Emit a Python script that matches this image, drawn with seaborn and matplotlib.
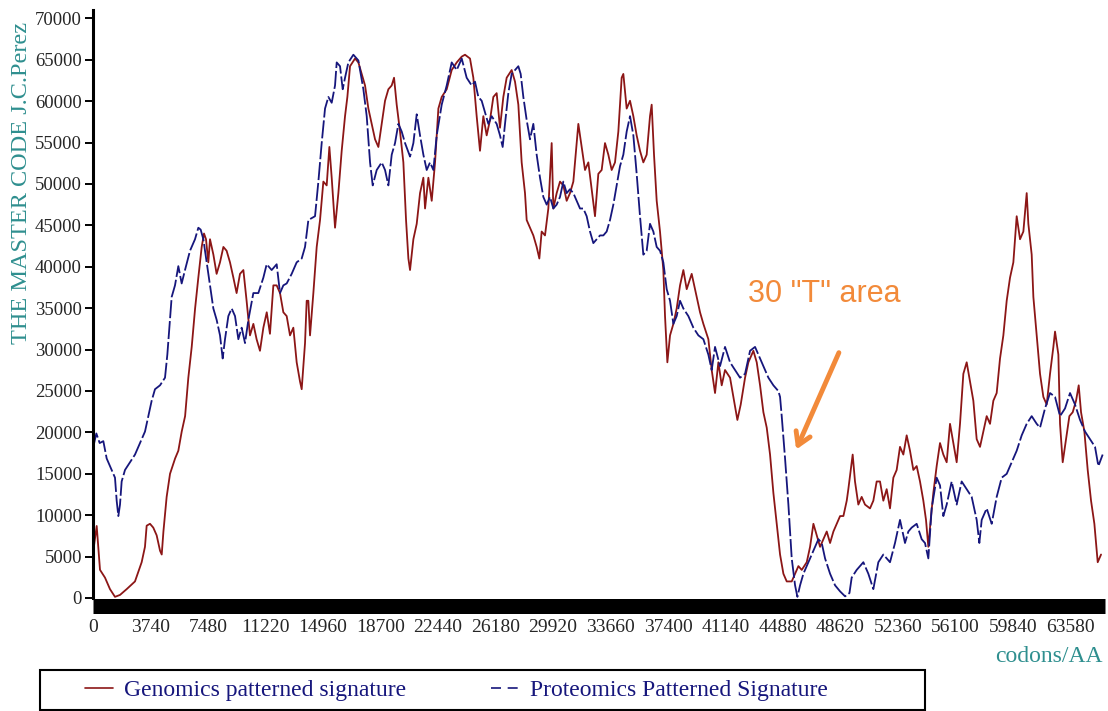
import matplotlib
matplotlib.use("Agg")
import matplotlib.pyplot as plt
from matplotlib.lines import Line2D
from matplotlib.patches import Rectangle
import pandas as pd
import seaborn as sns

# values (codon position, cumulative signature)
gen_x = [20, 240, 455, 780, 1105, 1430, 1755, 2190, 2730, 3165, 3380, 3490, 3706, 3920,
         4140, 4360, 4470, 4580, 4790, 5010, 5340, 5550, 5770, 5990, 6200, 6420, 6640,
         6850, 7070, 7220, 7350, 7500, 7610, 7830, 8040, 8260, 8480, 8690, 8910, 9130,
         9340, 9560, 9780, 9990, 10210, 10430, 10640, 10860, 11080, 11300, 11510, 11730,
         11946, 12163, 12380, 12597, 12813, 13030, 13247, 13464, 13573, 13790, 13898,
         14007, 14115, 14332, 14549, 14766, 14982, 15199, 15373, 15525, 15742, 15959,
         16175, 16392, 16544, 16717, 17043, 17260, 17477, 17693, 17910, 18127, 18344,
         18560, 18777, 18994, 19211, 19428, 19580, 19752, 19969, 20186, 20360, 20512,
         20620, 20837, 21054, 21270, 21487, 21596, 21813, 22030, 22246, 22463, 22680,
         23005, 23330, 23656, 23981, 24195, 24520, 24737, 24954, 25170, 25387, 25604,
         25821, 26038, 26254, 26471, 26688, 26905, 27230, 27447, 27664, 27880, 28097,
         28206, 28422, 28639, 28856, 29030, 29181, 29398, 29615, 29832, 29940, 30157,
         30374, 30591, 30807, 31024, 31241, 31566, 31783, 32000, 32217, 32433, 32650,
         32867, 33084, 33300, 33517, 33734, 33951, 34168, 34384, 34493, 34710, 34927,
         35144, 35360, 35577, 35794, 36011, 36228, 36336, 36488, 36662, 36878, 37095,
         37204, 37356, 37530, 37747, 37963, 38180, 38397, 38614, 38939, 39264, 39481,
         39698, 40023, 40240, 40457, 40674, 40891, 41107, 41433, 41650, 41910, 42127,
         42409, 42626, 42951, 43168, 43385, 43602, 43819, 44035, 44252, 44469, 44686,
         44903, 45120, 45445, 45662, 45879, 46096, 46421, 46638, 46855, 47072, 47288,
         47505, 47722, 47939, 48156, 48373, 48589, 48806, 49023, 49127, 49409, 49560,
         49777, 49994, 50211, 50536, 50753, 50970, 51186, 51403, 51620, 51837, 52054,
         52270, 52487, 52704, 52921, 53138, 53355, 53571, 53788, 54005, 54178, 54330,
         54482, 54655, 54872, 55089, 55306, 55523, 55740, 55956, 56173, 56390, 56607,
         56824, 57041, 57257, 57474, 57691, 57908, 58125, 58342, 58558, 58775, 58992,
         59209, 59426, 59643, 59859, 60076, 60293, 60510, 60727, 60835, 61052, 61161,
         61378, 61594, 61811, 62028, 62245, 62462, 62570, 62787, 62895, 63069, 63286,
         63503, 63720, 63937, 64110, 64262, 64479, 64695, 64912, 65129, 65346, 65563]
gen_y = [5700, 8700, 3400, 2460, 1070, 140, 370, 1070, 2000, 4320, 6180, 8730, 8960, 8500,
         7570, 5710, 5250, 8030, 12210, 15000, 16850, 17780, 20100, 21960, 26600, 30320,
         34960, 38680, 42390, 44010, 43320, 40530, 43320, 41460, 39140, 40530, 42390,
         41930, 40530, 38680, 36820, 39140, 39600, 35890, 31710, 33100, 31250, 29850,
         32640, 34500, 31900, 37750, 37750, 36820, 34500, 34040, 31710, 32640, 28460,
         26140, 25210, 30780, 35890, 35890, 31710, 36820, 42390, 45640, 50280, 49820,
         54460, 50750, 44710, 48890, 54000, 58180, 60500, 64210, 65140, 64670, 63280,
         61890, 59100, 57250, 55390, 54460, 57250, 60040, 61430, 61890, 62820, 59570,
         56320, 52600, 45640, 41000, 39600, 43320, 45180, 48890, 50750, 47030, 50750,
         47960, 52600, 59100, 60500, 61430, 63750, 64670, 65370, 65600, 65140, 62820,
         58180, 54000, 58180, 55860, 57710, 60500, 60960, 56780, 60500, 62820, 63750,
         62350, 59570, 52600, 48890, 45640, 44710, 43780, 42390, 40990, 44250, 43780,
         47030, 54930, 47030, 48890, 50280, 49820, 47960, 48890, 50280, 57250, 54460,
         51680, 52600, 49360, 46100, 51220, 51680, 54930, 53530, 51680, 52600, 56320,
         62820, 63280, 59100, 60040, 58180, 55860, 54000, 52600, 53530, 58180, 59570,
         53530, 47960, 44250, 39600, 34040, 28460, 31710, 33100, 34960, 37750, 39600,
         37290, 39140, 36350, 34500, 33100, 31250, 27530, 24750, 28460, 25680, 27530,
         26600, 24280, 21500, 23360, 26600, 28460, 29850, 28460, 25680, 22430, 20570,
         17320, 12680, 8960, 5250, 2930, 2000, 2000, 2930, 3850, 3390, 4320, 6180, 8960,
         7570, 6180, 7100, 8030, 6640, 8030, 8960, 9890, 9900, 11750, 13140, 17320,
         14070, 11280, 12210, 11280, 10820, 11750, 14070, 14070, 11750, 13140, 10820,
         14530, 15460, 18250, 17320, 19640, 17780, 15460, 15930, 14070, 11750, 9430,
         6180, 9430, 12680, 15930, 18710, 17320, 16390, 21030, 18710, 16390, 21030,
         27070, 28460, 26140, 23820, 19180, 18250, 20100, 21960, 21030, 23820, 24750,
         28920, 31710, 35890, 38680, 40530, 46100, 43320, 44250, 48890, 45180, 41460,
         36350, 31710, 27070, 24280, 23360, 27070, 30320, 32170, 29390, 21030, 16390,
         19180, 21960, 22430, 23820, 25680, 22430, 20100, 15460, 11750, 8960, 4320, 5250]

prot_x = [20, 217, 434, 672, 889, 1214, 1430, 1540, 1648, 1756, 1864, 2081, 2406, 2732,
          3057, 3382, 3600, 3816, 4032, 4358, 4683, 4835, 5008, 5117, 5333, 5550, 5767,
          5984, 6309, 6634, 6851, 7003, 7177, 7394, 7610, 7827, 8044, 8261, 8434, 8586,
          8803, 9020, 9237, 9453, 9670, 9887, 10104, 10429, 10754, 11080, 11296, 11621,
          11946, 12163, 12380, 12597, 12922, 13247, 13573, 13790, 14007, 14224, 14441,
          14658, 14874, 15091, 15308, 15525, 15742, 15850, 16067, 16241, 16392, 16609,
          16934, 17260, 17585, 17802, 18019, 18192, 18452, 18777, 18994, 19211, 19428,
          19644, 19861, 20078, 20295, 20620, 20837, 21054, 21270, 21487, 21704, 21921,
          22138, 22355, 22680, 23005, 23330, 23656, 23981, 24303, 24628, 24845, 25062,
          25279, 25496, 25712, 25929, 26254, 26471, 26645, 26797, 27013, 27230, 27447,
          27664, 27816, 27989, 28206, 28422, 28639, 28856, 29073, 29290, 29506, 29723,
          29940, 30157, 30374, 30591, 30807, 31024, 31241, 31458, 31675, 31891, 32108,
          32325, 32542, 32759, 32975, 33192, 33409, 33626, 33843, 34059, 34276, 34493,
          34710, 34927, 35144, 35360, 35577, 35794, 36011, 36228, 36445, 36662, 36878,
          37095, 37312, 37530, 37747, 37963, 38180, 38397, 38722, 39047, 39373, 39698,
          40023, 40240, 40457, 40782, 41107, 41433, 41758, 42083, 42409, 42734, 43059,
          43276, 43602, 43927, 44252, 44578, 44686, 44794, 45011, 45228, 45445, 45662,
          45814, 45987, 46204, 46421, 46746, 46963, 47180, 47397, 47613, 47939, 48264,
          48589, 48915, 49200, 49344, 49669, 50103, 50428, 50753, 51078, 51403, 51837,
          52162, 52487, 52812, 53030, 53246, 53571, 53897, 54113, 54330, 54547, 54872,
          55089, 55306, 55523, 55848, 56173, 56498, 56824, 57149, 57474, 57648, 57800,
          58125, 58450, 58775, 59101, 59426, 59751, 60076, 60402, 60727, 61052, 61378,
          61594, 61919, 62245, 62570, 62895, 63220, 63545, 63871, 64196, 64521, 64846,
          65171, 65388, 65669]
prot_y = [18250, 19870, 18710, 18940, 16850, 15460, 14530, 11750, 9890, 11280, 14070,
          15460, 16390, 17320, 18710, 20100, 21960, 23820, 25210, 25680, 26600, 29390,
          33570, 36350, 37750, 40070, 37980, 39600, 41930, 43320, 44710, 44480, 43320,
          40530, 37750, 34960, 33570, 31710, 28920, 31250, 34040, 34960, 34040, 31250,
          32640, 30780, 33570, 36820, 36820, 38680, 40300, 39600, 40300, 36820, 37750,
          37980, 39140, 40530, 40990, 42390, 45640, 45870, 46100, 50280, 54930, 59100,
          60500, 59800, 61890, 64670, 64210, 61430, 62820, 64670, 65600, 64910, 61430,
          58180, 52600, 49820, 51680, 52600, 51680, 49820, 53530, 54930, 57250, 56320,
          54930, 53300, 54930, 58410, 55860, 53530, 51680, 52600, 51680, 55860, 59570,
          61890, 64670, 63750, 65140, 62820, 61890, 62350, 60500, 60040, 58640, 57250,
          58180, 57250, 55860, 54460, 57250, 60960, 63280, 63750, 64210, 63280, 60500,
          57710, 55390, 57250, 53530, 50750, 48430, 47500, 48430, 47030, 47500, 48430,
          50280, 48890, 49360, 48890, 47960, 47030, 47030, 46100, 44250, 42850, 43320,
          43780, 43780, 44250, 45640, 47500, 49820, 52140, 53530, 56320, 58180, 55860,
          51220, 46100, 41460, 41930, 45180, 44250, 42390, 41930, 40530, 37290, 35890,
          33100, 34040, 35890, 34960, 34040, 32640, 31710, 31250, 29390, 27530, 30320,
          28000, 30320, 28460, 27530, 26600, 27070, 29850, 30320, 29390, 28000, 26600,
          25680, 24980, 24280, 21960, 16850, 11280, 4780, 1530, 140, 1530, 2930, 3850,
          5250, 6180, 7100, 6640, 4780, 2930, 1530, 800, 200, 600, 2460, 3390, 4320, 2930,
          1070, 4320, 5250, 4320, 6640, 9430, 6640, 8030, 8500, 8960, 7100, 6640, 4780,
          10820, 14530, 13600, 9890, 11280, 14070, 11280, 14070, 13140, 12210, 9430, 6640,
          9430, 10820, 8960, 12210, 14530, 14990, 16390, 17780, 19640, 21030, 21960,
          21030, 20570, 22890, 24750, 24280, 21960, 22890, 24750, 23360, 21500, 20100,
          19180, 18250, 15930, 17320]

x_ticks = [0, 3740, 7480, 11220, 14960, 18700, 22440, 26180, 29920, 33660,
           37400, 41140, 44880, 48620, 52360, 56100, 59840, 63580]
y_ticks = list(range(0, 70001, 5000))

red = '#8c1616'
navy = '#16167c'
teal = '#2f8f8f'
orange = '#f28a3a'

sns.set_style("white")
plt.rcParams['font.family'] = ['Liberation Serif', 'DejaVu Serif']

fig = plt.figure(figsize=(11.08, 7.11), dpi=100)
ax = fig.add_axes([93 / 1108, 113 / 711, 1012 / 1108, 588 / 711])

genom = pd.DataFrame({'codon': gen_x, 'value': gen_y})
prot = pd.DataFrame({'codon': prot_x, 'value': prot_y})

sns.lineplot(data=genom, x='codon', y='value', ax=ax, color=red, lw=1.3, errorbar=None)
sns.lineplot(data=prot, x='codon', y='value', ax=ax, color=navy, lw=1.3, errorbar=None)
ax.lines[-1].set_linestyle((0, (10, 1.6)))

ax.set_xlim(0, 65820)
ax.set_ylim(0, 71000)
ax.set_xticks(x_ticks)
ax.set_xticklabels([str(v) for v in x_ticks])
ax.set_yticks(y_ticks)
ax.set_yticklabels([str(v) for v in y_ticks])
ax.set_xlabel('')
ax.set_ylabel('')

for s in ['top', 'right']:
    ax.spines[s].set_visible(False)
ax.spines['left'].set_linewidth(2.2)
ax.spines['left'].set_color('black')
ax.spines['bottom'].set_linewidth(10.8)
ax.spines['bottom'].set_color('black')
ax.spines['bottom'].set_capstyle('butt')
ax.spines['bottom'].set_position(('outward', 5.4))

ax.tick_params(axis='y', direction='out', length=6, width=1.4, color='black',
               labelsize=13.5, pad=2, left=True)
ax.tick_params(axis='x', length=0, labelsize=14, pad=10)

# annotation
ax.text(42600, 36700, '30 "T" area', color=orange, fontsize=22,
        family=['Liberation Sans', 'DejaVu Sans'], ha='left', va='center')
ax.annotate('', xy=(45660, 17620), xytext=(48585, 29930),
            arrowprops=dict(arrowstyle='->, head_length=0.9, head_width=0.55',
                            color=orange, lw=3.5))

fig.text(22 / 1108, 1 - 183 / 711, 'THE MASTER CODE J.C.Perez', rotation=90,
         color=teal, fontsize=17.5, ha='center', va='center')
fig.text(1103 / 1108, 1 - 657 / 711, 'codons/AA', color=teal, fontsize=17,
         ha='right', va='center')

# legend with its own frame
handles = [Line2D([], [], color=red, lw=1.2),
           Line2D([], [], color=navy, lw=1.2, linestyle=(0, (6, 4)))]
fig.legend(handles, ['Genomics patterned signature', 'Proteomics Patterned Signature'],
           loc='center left', bbox_to_anchor=(85 / 1108, 1 - 690 / 711), ncol=2,
           frameon=False, fontsize=17, labelcolor=navy, handlelength=1.2,
           handletextpad=0.45, columnspacing=3.6, borderpad=0, borderaxespad=0)
fig.add_artist(Rectangle((40 / 1108, 1 / 711), 885 / 1108, 40 / 711,
                         transform=fig.transFigure, fill=False, lw=1.5, ec='black'))

fig.savefig('out.png', dpi=100)
